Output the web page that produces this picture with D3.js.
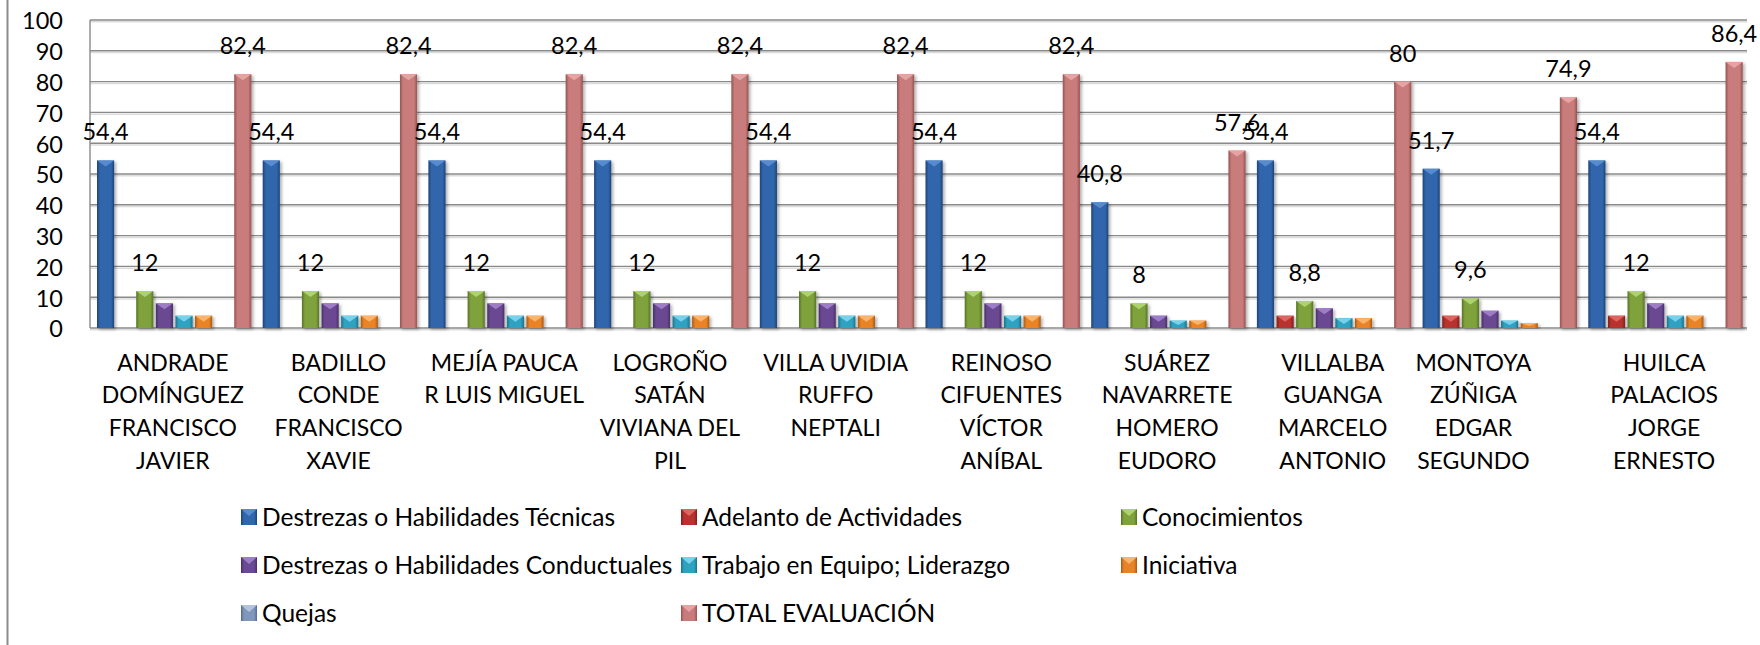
<!DOCTYPE html>
<html>
<head>
<meta charset="utf-8">
<script src="https://cdn.jsdelivr.net/npm/d3@7"></script>
<style>
  html, body { margin: 0; padding: 0; background: #fff; }
  svg text { font-family: Lato, "Open Sans", sans-serif; fill: #000; }
</style>
</head>
<body>
<svg id="chart" width="1760" height="645"></svg>
<script>
// ---------------- DATA ----------------
const categories = [
  ["ANDRADE", "DOMÍNGUEZ", "FRANCISCO", "JAVIER"],
  ["BADILLO", "CONDE", "FRANCISCO", "XAVIE"],
  ["MEJÍA PAUCA", "R LUIS MIGUEL"],
  ["LOGROÑO", "SATÁN", "VIVIANA DEL", "PIL"],
  ["VILLA UVIDIA", "RUFFO", "NEPTALI"],
  ["REINOSO", "CIFUENTES", "VÍCTOR", "ANÍBAL"],
  ["SUÁREZ", "NAVARRETE", "HOMERO", "EUDORO"],
  ["VILLALBA", "GUANGA", "MARCELO", "ANTONIO"],
  ["MONTOYA", "ZÚÑIGA", "EDGAR", "SEGUNDO"],
  ["HUILCA", "PALACIOS", "JORGE", "ERNESTO"]
];
const seriesNames = [
  "Destrezas o Habilidades Técnicas",
  "Adelanto de Actividades",
  "Conocimientos",
  "Destrezas o Habilidades Conductuales",
  "Trabajo en Equipo; Liderazgo",
  "Iniciativa",
  "Quejas",
  "TOTAL EVALUACIÓN"
];
const tecnicas      = [54.4, 54.4, 54.4, 54.4, 54.4, 54.4, 40.8, 54.4, 51.7, 54.4];
const adelanto      = [0, 0, 0, 0, 0, 0, 0, 4, 4, 4];
const conocimientos = [12, 12, 12, 12, 12, 12, 8, 8.8, 9.6, 12];
const conductuales  = [8, 8, 8, 8, 8, 8, 4, 6.4, 5.6, 8];
const trabajo       = [4, 4, 4, 4, 4, 4, 2.4, 3.2, 2.4, 4];
const iniciativa    = [4, 4, 4, 4, 4, 4, 2.4, 3.2, 1.6, 4];
const quejas        = [0, 0, 0, 0, 0, 0, 0, 0, 0, 0];
const total         = [82.4, 82.4, 82.4, 82.4, 82.4, 82.4, 57.6, 80, 74.9, 86.4];
const yTicks = [0, 10, 20, 30, 40, 50, 60, 70, 80, 90, 100];
const labeledSeries = [0, 2, 7];

const seriesValues = [tecnicas, adelanto, conocimientos, conductuales, trabajo, iniciativa, quejas, total];

// ---------------- STYLE ----------------
const colors = [
  {base: "#3166ac", dark: "#1d4377", light: "#5a8fd4"},
  {base: "#b8322f", dark: "#7f1f1d", light: "#e06a66"},
  {base: "#7fa23c", dark: "#587325", light: "#b4d873"},
  {base: "#6a4a92", dark: "#472f66", light: "#a283cc"},
  {base: "#2fa2c0", dark: "#1c7187", light: "#7fd6ee"},
  {base: "#e98327", dark: "#a75a14", light: "#fbb872"},
  {base: "#7f97bb", dark: "#56698a", light: "#b7c8e2"},
  {base: "#c97b7b", dark: "#955252", light: "#eaa7a6"}
];

const svg = d3.select("#chart");
const defs = svg.append("defs");
colors.forEach((c, i) => {
  const g = defs.append("linearGradient").attr("id", "g" + i)
    .attr("x1", "0").attr("x2", "1").attr("y1", "0").attr("y2", "0");
  g.append("stop").attr("offset", "0%").attr("stop-color", c.dark);
  g.append("stop").attr("offset", "18%").attr("stop-color", c.base);
  g.append("stop").attr("offset", "50%").attr("stop-color", c.base);
  g.append("stop").attr("offset", "82%").attr("stop-color", c.base);
  g.append("stop").attr("offset", "100%").attr("stop-color", c.dark);
});
const shadow = defs.append("filter").attr("id", "shadow")
  .attr("x", "-30%").attr("y", "-10%").attr("width", "170%").attr("height", "130%");
shadow.append("feDropShadow").attr("dx", 2).attr("dy", 1.5).attr("stdDeviation", 1.8)
  .attr("flood-color", "#000").attr("flood-opacity", 0.3);

// ---------------- LAYOUT ----------------
const plotLeft = 90, plotRight = 1747, plotTop = 20, plotBottom = 328;
const y = d3.scaleLinear().domain([0, 100]).range([plotBottom, plotTop]);
const x0 = d3.scaleBand().domain(d3.range(categories.length)).range([plotLeft, plotRight]);
const x1 = d3.scaleBand().domain(d3.range(seriesNames.length)).range([7, 161.4]).paddingInner(0.125);
const fmt = v => String(v).replace(".", ",");

// outer chart border (left edge visible)
svg.append("line").attr("x1", 7.5).attr("x2", 7.5).attr("y1", 0).attr("y2", 645)
  .attr("stroke", "#8c8c8c").attr("stroke-width", 2);

// gridlines
const grid = svg.append("g");
yTicks.forEach(t => {
  grid.append("line").attr("x1", plotLeft).attr("x2", plotRight)
    .attr("y1", y(t) + 1.8).attr("y2", y(t) + 1.8)
    .attr("stroke", "#dcdcdc").attr("stroke-width", 1.5);
  grid.append("line").attr("x1", plotLeft).attr("x2", plotRight)
    .attr("y1", y(t)).attr("y2", y(t))
    .attr("stroke", "#8a8a8a").attr("stroke-width", 1.4);
});
svg.append("line").attr("x1", plotLeft).attr("x2", plotLeft)
  .attr("y1", plotTop).attr("y2", plotBottom)
  .attr("stroke", "#8a8a8a").attr("stroke-width", 1.4);

// y axis
const yAxis = d3.axisLeft(y).tickValues(yTicks).tickSize(0).tickPadding(27);
const ya = svg.append("g").attr("transform", `translate(${plotLeft},0)`).call(yAxis);
ya.select(".domain").remove();
ya.selectAll("text").attr("font-size", 23.5).attr("font-family", "Lato").attr("fill", "#000").attr("dy", "0.38em");

// bars
const rows = [];
categories.forEach((c, ci) => {
  seriesValues.forEach((vals, si) => {
    rows.push({ci, si, v: vals[ci]});
  });
});
const barG = svg.append("g");
const bars = rows.filter(d => d.v > 0);
const bw = x1.bandwidth();
const bg = barG.selectAll("g.bar").data(bars).join("g").attr("class", "bar")
  .attr("transform", d => `translate(${x0(d.ci) + x1(d.si)},0)`);
bg.append("rect")
  .attr("x", 0).attr("width", bw)
  .attr("y", d => y(d.v)).attr("height", d => y(0) - y(d.v))
  .attr("fill", d => `url(#g${d.si})`)
  .attr("filter", "url(#shadow)");
// bevel cap
bg.append("path")
  .attr("d", d => {
    const t = y(d.v), h = Math.min(6, (y(0) - y(d.v)) * 0.6);
    return `M0,${t}L${bw},${t}L${bw / 2},${t + h}Z`;
  })
  .attr("fill", d => colors[d.si].light).attr("opacity", 0.9);

// data labels
svg.append("g").selectAll("text").data(bars.filter(d => labeledSeries.includes(d.si)))
  .join("text")
  .attr("x", d => x0(d.ci) + x1(d.si) + bw / 2)
  .attr("y", d => y(d.v) - 20)
  .attr("text-anchor", "middle").attr("font-size", 23.5)
  .text(d => fmt(d.v));

// category labels
const labelShift = {8: -25};
const catG = svg.append("g");
categories.forEach((lines, ci) => {
  const cx = x0(ci) + x0.bandwidth() / 2 + (labelShift[ci] || 0);
  const t = catG.append("text").attr("text-anchor", "middle").attr("font-size", 23);
  lines.forEach((ln, li) => {
    t.append("tspan").attr("x", cx).attr("y", 370.7 + li * 32.7).text(ln);
  });
});

// legend
const legendOrder = [0, 1, 2, 3, 4, 5, 6, 7];
const colX = [241, 681, 1121], rowY = [517, 565, 613];
const lg = svg.append("g");
legendOrder.forEach((si, k) => {
  const lx = colX[k % 3], ly = rowY[Math.floor(k / 3)];
  const item = lg.append("g").attr("transform", `translate(${lx},${ly})`);
  item.append("rect").attr("x", 0).attr("y", -8).attr("width", 16).attr("height", 16)
    .attr("fill", `url(#g${si})`);
  item.append("path").attr("d", "M0,-8L16,-8L8,-1Z").attr("fill", colors[si].light).attr("opacity", 0.9);
  item.append("text").attr("x", 21).attr("y", 8.5).attr("font-size", 24.5).text(seriesNames[si]);
});
</script>
</body>
</html>
